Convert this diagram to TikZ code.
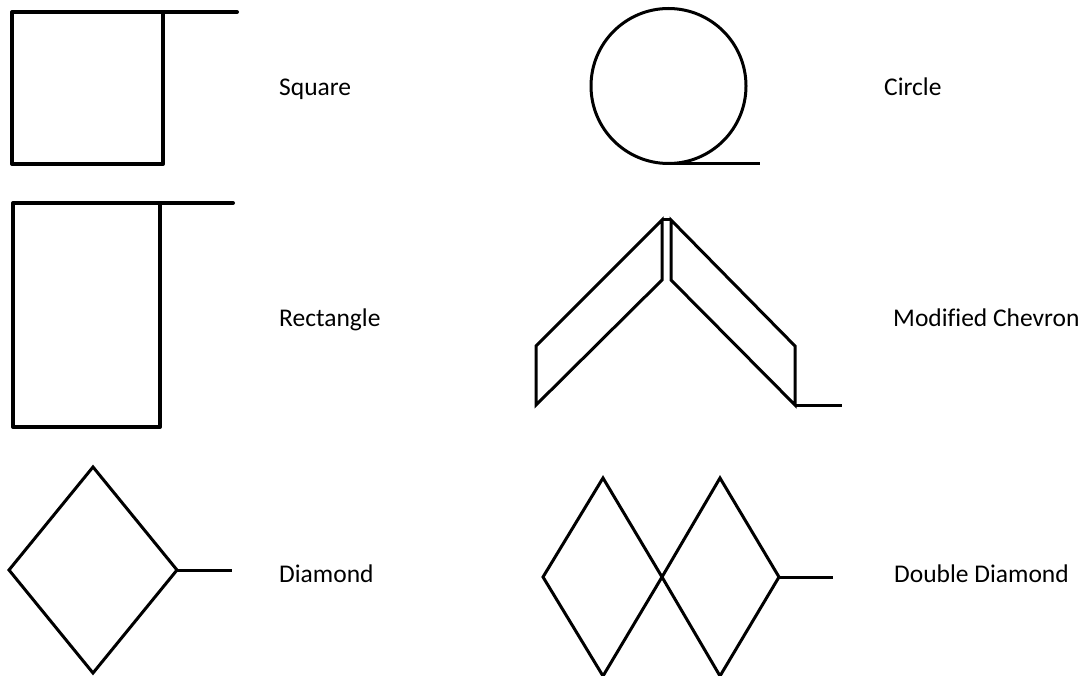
\documentclass[tikz,border=0pt]{standalone}
\usepackage{fontspec}
\setmainfont[Ligatures=NoCommon]{Carlito}
\begin{document}
\begin{tikzpicture}[x=1pt,y=-1pt,
  thick shape/.style={draw=black,line width=4pt,line join=round,line cap=round},
  thin shape/.style={draw=black,line width=3pt,line join=miter},
  label/.style={anchor=base west,inner sep=0pt,font=\fontsize{25.5}{30}\selectfont}]
\useasboundingbox[fill=white] (0,0) rectangle (1089,676);
% Square
\draw[thick shape] (163,12) -- (12,12) -- (12,164) -- (163,164) -- cycle;
\draw[thick shape] (163,12) -- (237,12);
\node[label] (sq) at (279,96) {Square};
% Rectangle
\draw[thick shape] (160,203) -- (13,203) -- (13,427) -- (160,427) -- cycle;
\draw[thick shape] (160,203) -- (233,203);
\node[label] (rect) at (279,326) {Rectangle};
% Diamond
\draw[thin shape] (93,467) -- (177,570) -- (93,673) -- (9,570) -- cycle;
\draw[thin shape] (177,570) -- (232,570);
\node[label] (dia) at (279,582) {Diamond};
% Circle
\draw[thin shape] (668.5,86) circle[radius=77.5];
\draw[thin shape] (668.5,163.5) -- (760,163.5);
\node[label] (circ) at (884,96) {Circle};
% Modified Chevron
\draw[thin shape] (536,405) -- (536,346) -- (662,220) -- (662,280) -- cycle;
\draw[thin shape] (671,280) -- (671,220) -- (795,346) -- (795,405) -- cycle;
\draw[thin shape] (662,220) -- (671,220);
\draw[thin shape] (795,405) -- (842,405);
\node[label] (chev) at (893,326) {Modified Chevron};
% Double Diamond
\draw[thin shape] (603,478) -- (662,577) -- (603,676) -- (543,577) -- cycle;
\draw[thin shape] (720,478) -- (779,577) -- (720,676) -- (662,577) -- cycle;
\draw[thin shape] (779,577) -- (833,577);
\node[label] (ddia) at (894,582) {Double Diamond};
\end{tikzpicture}
\end{document}
